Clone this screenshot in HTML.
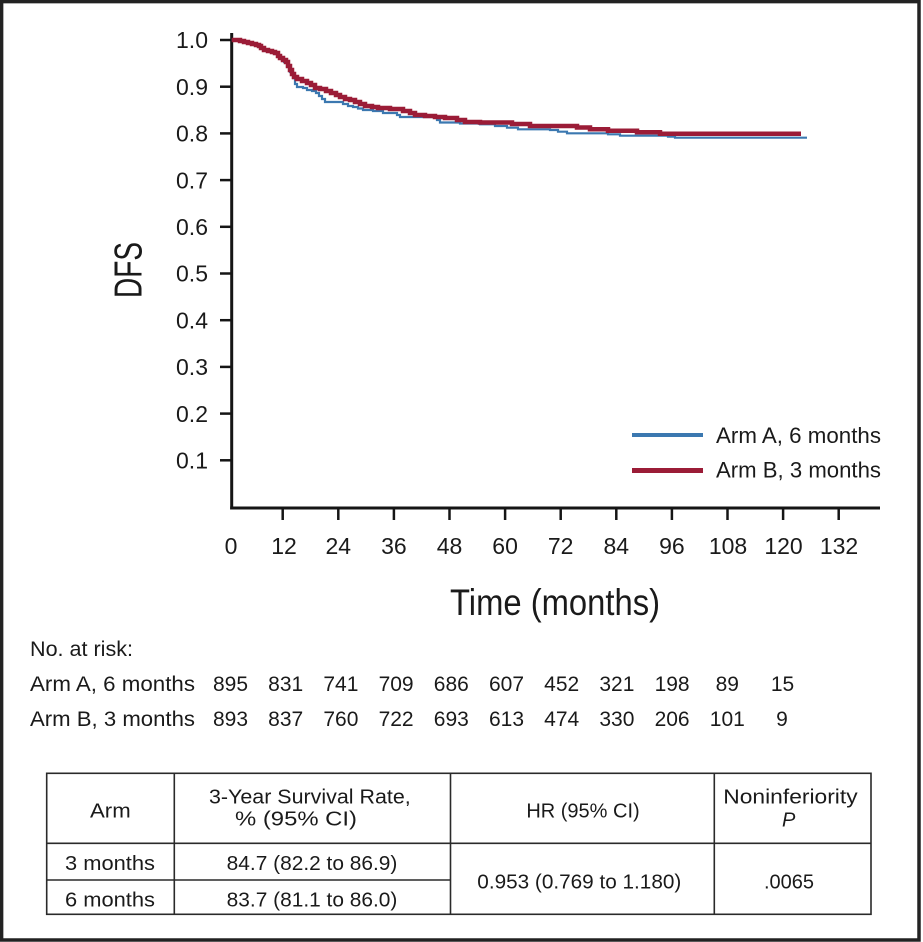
<!DOCTYPE html>
<html>
<head>
<meta charset="utf-8">
<style>
  html,body{margin:0;padding:0;background:#fff;}
  svg{display:block;}
  text{font-family:"Liberation Sans", Arial, sans-serif; fill:#1a1a1a;}
</style>
</head>
<body>
<svg width="923" height="942" viewBox="0 0 923 942" xmlns="http://www.w3.org/2000/svg">
  <rect x="0" y="0" width="923" height="942" fill="#fff"/>
  <!-- outer frame -->
  <rect x="1.6" y="1.6" width="917.4" height="938.4" fill="none" stroke="#222" stroke-width="3.5"/>

  <!-- Axes -->
  <g stroke="#151515" fill="none">
    <path d="M231.7,33 V509.5" stroke-width="3"/>
    <path d="M230.2,508 H880" stroke-width="3"/>
    <g stroke-width="2.5">
      <path d="M220,40 H231.7"/>
      <path d="M220,86.7 H231.7"/>
      <path d="M220,133.4 H231.7"/>
      <path d="M220,180.1 H231.7"/>
      <path d="M220,226.8 H231.7"/>
      <path d="M220,273.5 H231.7"/>
      <path d="M220,320.2 H231.7"/>
      <path d="M220,366.9 H231.7"/>
      <path d="M220,413.6 H231.7"/>
      <path d="M220,460.3 H231.7"/>
      <path d="M282.7,508 V520"/>
      <path d="M338.3,508 V520"/>
      <path d="M393.9,508 V520"/>
      <path d="M449.5,508 V520"/>
      <path d="M505.1,508 V520"/>
      <path d="M560.7,508 V520"/>
      <path d="M616.3,508 V520"/>
      <path d="M671.9,508 V520"/>
      <path d="M727.5,508 V520"/>
      <path d="M783.1,508 V520"/>
      <path d="M838.7,508 V520"/>
    </g>
  </g>

  <!-- Y tick labels -->
  <g font-size="23" text-anchor="end">
    <text x="208" y="48.2">1.0</text>
    <text x="208" y="94.9">0.9</text>
    <text x="208" y="141.6">0.8</text>
    <text x="208" y="188.3">0.7</text>
    <text x="208" y="235">0.6</text>
    <text x="208" y="281.7">0.5</text>
    <text x="208" y="328.4">0.4</text>
    <text x="208" y="375.1">0.3</text>
    <text x="208" y="421.8">0.2</text>
    <text x="208" y="468.5">0.1</text>
  </g>

  <!-- X tick labels -->
  <g font-size="23" text-anchor="middle">
    <text x="231" y="554">0</text>
    <text x="284" y="554">12</text>
    <text x="338.3" y="554">24</text>
    <text x="393.9" y="554">36</text>
    <text x="449.5" y="554">48</text>
    <text x="505.1" y="554">60</text>
    <text x="560.7" y="554">72</text>
    <text x="616.3" y="554">84</text>
    <text x="671.9" y="554">96</text>
    <text x="728" y="554">108</text>
    <text x="783.5" y="554">120</text>
    <text x="839" y="554">132</text>
  </g>

  <!-- Axis titles -->
  <text x="450" y="615" font-size="37" textLength="210" lengthAdjust="spacingAndGlyphs">Time (months)</text>
  <text transform="translate(141.7,298) rotate(-90)" font-size="39" textLength="56" lengthAdjust="spacingAndGlyphs">DFS</text>

  <!-- Curves -->
  <path fill="none" stroke="#3b78b0" stroke-width="2.2" d="M231.7,40 H240 V41 H244 V42 H248 V43 H252 V44 H256 V45 H259 V46 H261 V48 H264 V50 H268 V51 H272 V52 H275 V54 H278 V56 H281 V59 H284 V62 H287 V66 H290 V72 H293 V78 H295 V84 H297 V87 H303 V88 H307 V90 H312 V91 H316 V93 H319 V96 H322 V99 H325 V102 H343 V104 H348 V106 H353 V107 H358 V108.5 H363 V110 H373 V111 H383 V113 H397 V115 H400 V117 H437 V120 H440 V122.5 H460 V123.5 H480 V124.3 H495 V126 H507 V127.7 H518 V129.3 H550 V130 H558 V131.7 H567 V133.3 H608 V134.3 H620 V135.7 H668 V136.7 H675 V137.7 H807"/>
  <path fill="none" stroke="#9b1c37" stroke-width="4.5" d="M231.7,40 H240 V41 H244 V42 H248 V43 H252 V44 H256 V45 H259 V46 H261 V48 H264 V50 H268 V51 H272 V52 H275 V53 H278 V56 H280 V58 H283 V60 H286 V62 H288 V66 H290 V70 H292 V74 H294 V77 H297 V79 H302 V81 H307 V83 H311 V85 H315 V88 H320 V89 H326 V91 H331 V93 H336 V95 H340 V97 H345 V99 H350 V100 H355 V102 H360 V104 H365 V106 H372 V107 H378 V108 H390 V109 H403 V111 H410 V113 H415 V115 H425 V116 H435 V117 H445 V118 H457 V120 H465 V122 H480 V122.5 H512 V124 H530 V126 H577 V127.5 H590 V129.3 H608 V130.7 H637 V132.3 H660 V133.8 H801"/>

  <!-- Legend -->
  <path d="M632,435 H703" stroke="#3b78b0" stroke-width="4"/>
  <path d="M632,470.5 H703" stroke="#9b1c37" stroke-width="5"/>
  <text x="716" y="443" font-size="22" textLength="165" lengthAdjust="spacingAndGlyphs">Arm A, 6 months</text>
  <text x="716" y="477.5" font-size="22" textLength="165" lengthAdjust="spacingAndGlyphs">Arm B, 3 months</text>

  <!-- Number at risk -->
  <text x="30" y="656" font-size="21" textLength="103" lengthAdjust="spacingAndGlyphs">No. at risk:</text>
  <text x="30" y="691" font-size="21" textLength="165" lengthAdjust="spacingAndGlyphs">Arm A, 6 months</text>
  <text x="30" y="726" font-size="21" textLength="165" lengthAdjust="spacingAndGlyphs">Arm B, 3 months</text>
  <g font-size="21" text-anchor="middle">
    <text x="230.5" y="691">895</text>
    <text x="285.7" y="691">831</text>
    <text x="340.9" y="691">741</text>
    <text x="396.1" y="691">709</text>
    <text x="451.3" y="691">686</text>
    <text x="506.5" y="691">607</text>
    <text x="561.7" y="691">452</text>
    <text x="616.9" y="691">321</text>
    <text x="672.1" y="691">198</text>
    <text x="727.3" y="691">89</text>
    <text x="782.5" y="691">15</text>

    <text x="230.5" y="726">893</text>
    <text x="285.7" y="726">837</text>
    <text x="340.9" y="726">760</text>
    <text x="396.1" y="726">722</text>
    <text x="451.3" y="726">693</text>
    <text x="506.5" y="726">613</text>
    <text x="561.7" y="726">474</text>
    <text x="616.9" y="726">330</text>
    <text x="672.1" y="726">206</text>
    <text x="727.3" y="726">101</text>
    <text x="782" y="726">9</text>
  </g>

  <!-- Summary table -->
  <g stroke="#2a2a2a" stroke-width="1.6" fill="none">
    <rect x="46.7" y="773.3" width="824.3" height="141"/>
    <path d="M46.7,843.3 H871"/>
    <path d="M46.7,880 H450.5"/>
    <path d="M174.3,773.3 V914.3"/>
    <path d="M450.5,773.3 V914.3"/>
    <path d="M714.3,773.3 V914.3"/>
  </g>
  <g font-size="20">
    <text x="90" y="817.7" textLength="40.7" lengthAdjust="spacingAndGlyphs">Arm</text>
    <text x="209" y="803.3" textLength="201.7" lengthAdjust="spacingAndGlyphs">3-Year Survival Rate,</text>
    <text x="235" y="825.5" textLength="122" lengthAdjust="spacingAndGlyphs">% (95% CI)</text>
    <text x="583" y="817.7" text-anchor="middle">HR (95% CI)</text>
    <text x="723.3" y="803.3" textLength="134.3" lengthAdjust="spacingAndGlyphs">Noninferiority</text>
    <text x="782" y="826.5" font-style="italic">P</text>
    <text x="65" y="870" textLength="90" lengthAdjust="spacingAndGlyphs">3 months</text>
    <text x="65" y="906.7" textLength="90" lengthAdjust="spacingAndGlyphs">6 months</text>
    <text x="226.7" y="870" textLength="170.7" lengthAdjust="spacingAndGlyphs">84.7 (82.2 to 86.9)</text>
    <text x="226.7" y="906.7" textLength="170.7" lengthAdjust="spacingAndGlyphs">83.7 (81.1 to 86.0)</text>
    <text x="477.3" y="888.3" textLength="204" lengthAdjust="spacingAndGlyphs">0.953 (0.769 to 1.180)</text>
    <text x="789" y="888.3" text-anchor="middle">.0065</text>
  </g>
</svg>
</body>
</html>
